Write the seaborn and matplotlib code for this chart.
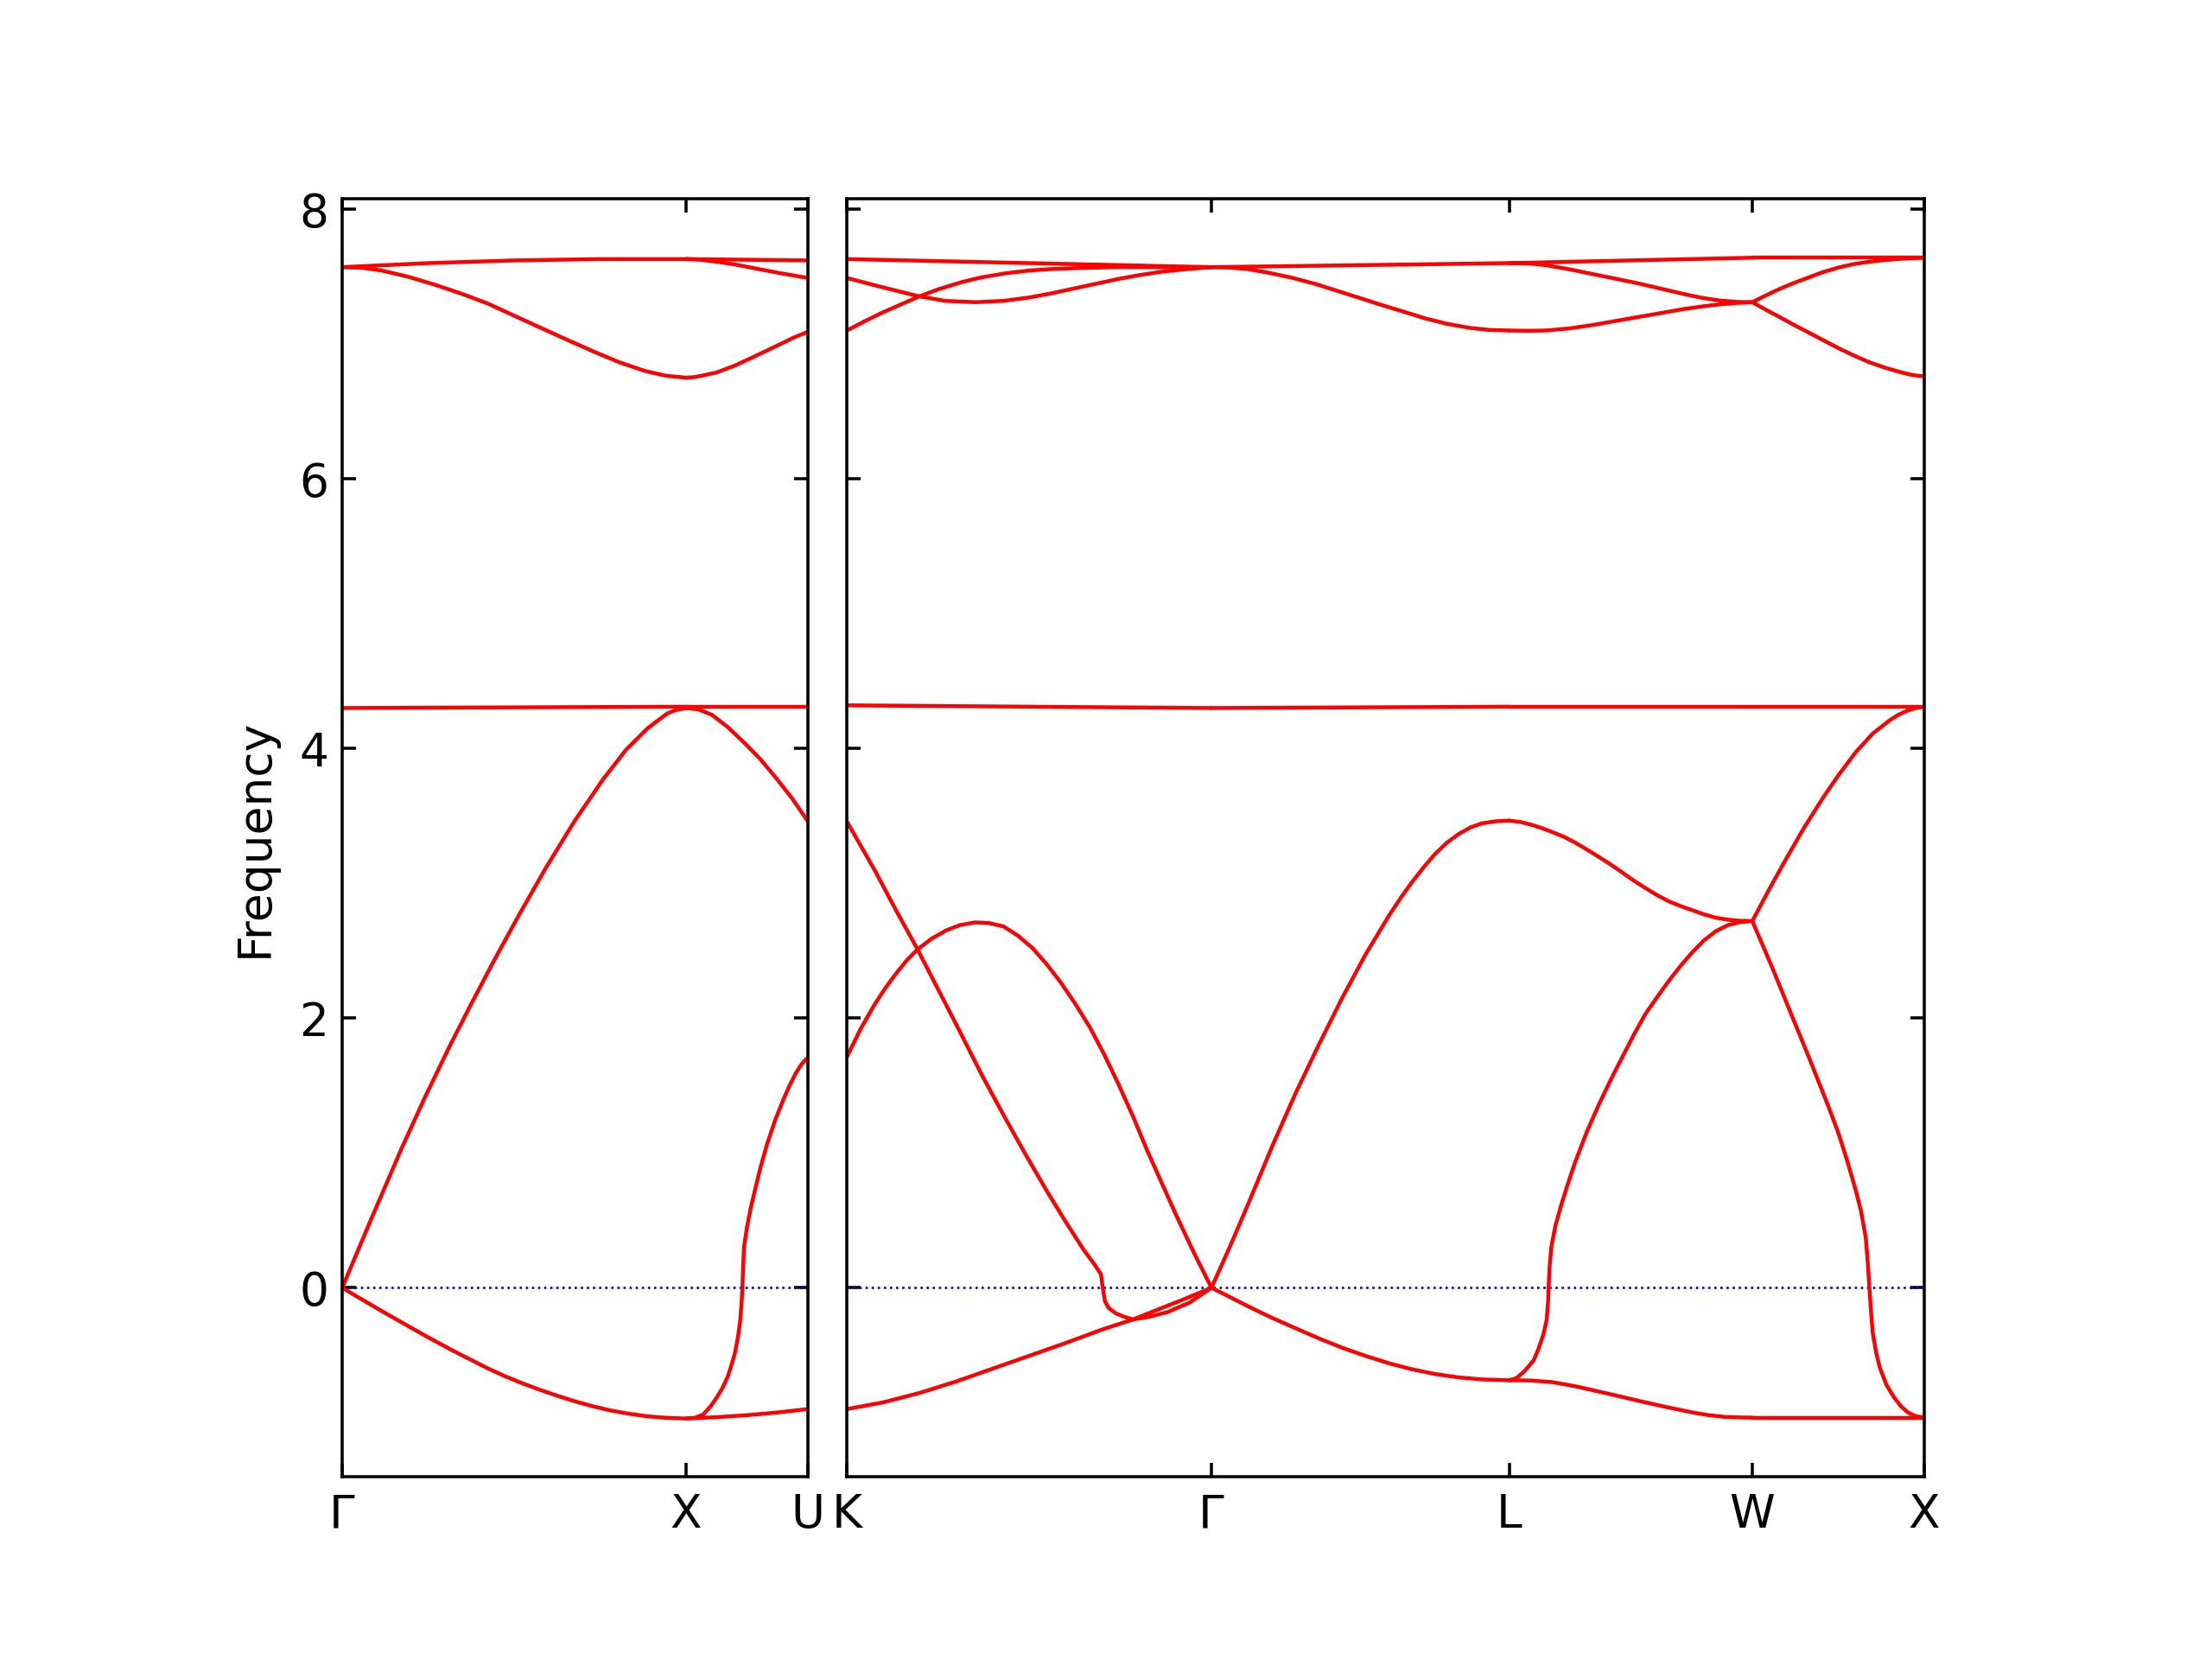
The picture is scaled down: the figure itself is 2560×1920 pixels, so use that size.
import matplotlib
matplotlib.use("Agg")
import matplotlib.pyplot as plt
import pandas as pd
import seaborn as sns

sns.set_style("ticks", {"axes.edgecolor": "black", "axes.linewidth": 0.8,
                        "xtick.color": "black", "ytick.color": "black",
                        "text.color": "black", "axes.labelcolor": "black"})
plt.rcParams["font.family"] = ["DejaVu Sans"]

# k-path: segment names, lengths (2pi/a) and which panel they go in
seg_names = ["GX", "XU", "KG", "GL", "LW", "WX"]
seg_lengths = [1.0, 0.3536, 1.0607, 0.8660, 0.7071, 0.5]
seg_panel = [0, 0, 1, 1, 1, 1]
panel_labels = [["Γ", "X", "U"], ["K", "Γ", "L", "W", "X"]]
freq_ticks = [0, 2, 4, 6, 8]

# bands: (fraction along segment, frequency)
# Gamma - X
gx_ta = [(0, 0), (0.056, -0.085), (0.113, -0.17), (0.175, -0.26), (0.238, -0.351), (0.319, -0.463),
         (0.42, -0.594), (0.472, -0.655), (0.525, -0.71), (0.578, -0.76), (0.63, -0.805),
         (0.68, -0.845), (0.73, -0.88), (0.78, -0.91), (0.83, -0.933), (0.883, -0.952),
         (0.936, -0.964), (1, -0.97)]
gx_la = [(0, 0), (0.086, 0.52), (0.172, 1.03), (0.24, 1.41), (0.312, 1.79), (0.376, 2.11),
         (0.442, 2.43), (0.515, 2.77), (0.591, 3.11), (0.675, 3.46), (0.758, 3.77),
         (0.825, 3.99), (0.888, 4.15), (0.945, 4.26), (0.97, 4.285), (1, 4.30)]
gx_flat = [(0, 4.30), (1, 4.31)]
gx_lo = [(0, 7.57), (0.06, 7.565), (0.115, 7.545), (0.19, 7.50), (0.269, 7.44), (0.345, 7.375),
         (0.423, 7.30), (0.5, 7.21), (0.577, 7.12), (0.655, 7.03), (0.73, 6.945), (0.805, 6.865),
         (0.88, 6.80), (0.94, 6.765), (1, 6.75)]
gx_to = [(0, 7.57), (0.25, 7.60), (0.5, 7.62), (0.75, 7.63), (1, 7.63)]

# X - U
xu_la = [(0, 4.30), (0.1, 4.29), (0.21, 4.25), (0.34, 4.16), (0.48, 4.04), (0.61, 3.92),
         (0.74, 3.78), (0.87, 3.63), (1, 3.46)]
xu_flat = [(0, 4.31), (1, 4.31)]
xu_ta1 = [(0, -0.97), (0.25, -0.96), (0.5, -0.945), (0.75, -0.925), (1, -0.90)]
xu_ta2 = [(0, -0.97), (0.07, -0.965), (0.139, -0.94), (0.2, -0.88), (0.254, -0.81), (0.3, -0.74),
          (0.341, -0.66), (0.37, -0.58), (0.399, -0.49), (0.425, -0.37), (0.442, -0.26),
          (0.455, -0.12), (0.462, 0.0), (0.468, 0.15), (0.475, 0.30), (0.50, 0.45), (0.53, 0.59),
          (0.567, 0.73), (0.61, 0.89), (0.663, 1.06), (0.73, 1.24), (0.796, 1.39), (0.85, 1.50),
          (0.9, 1.59), (0.95, 1.66), (1, 1.71)]
xu_lo = [(0, 6.75), (0.07, 6.755), (0.13, 6.765), (0.254, 6.79), (0.4, 6.84), (0.543, 6.90),
         (0.66, 6.95), (0.775, 7.00), (0.89, 7.05), (1, 7.09)]
xu_to1 = [(0, 7.63), (1, 7.62)]
xu_to2 = [(0, 7.63), (0.12, 7.625), (0.254, 7.61), (0.4, 7.59), (0.543, 7.565), (0.775, 7.525),
          (1, 7.49)]

# K - Gamma
kg_flat = [(0, 4.32), (0.5, 4.31), (1, 4.30)]
kg_top = [(0, 7.63), (0.5, 7.60), (1, 7.57)]
kg_mid = [(0, 7.49), (0.099, 7.42), (0.196, 7.355), (0.27, 7.32), (0.353, 7.31), (0.43, 7.32),
          (0.5, 7.345), (0.56, 7.375), (0.62, 7.41), (0.68, 7.445), (0.74, 7.48), (0.8, 7.51),
          (0.86, 7.535), (0.93, 7.555), (1, 7.57)]
kg_up = [(0, 7.10), (0.05, 7.17), (0.099, 7.235), (0.15, 7.295), (0.196, 7.35), (0.25, 7.405),
         (0.316, 7.46), (0.37, 7.495), (0.437, 7.525), (0.5, 7.545), (0.56, 7.556), (0.65, 7.565),
         (0.74, 7.57), (1, 7.57)]
kg_down = [(0, 3.46), (0.038, 3.28), (0.076, 3.10), (0.135, 2.80), (0.194, 2.51), (0.253, 2.20),
           (0.312, 1.89), (0.37, 1.58), (0.43, 1.28), (0.49, 0.99), (0.548, 0.72), (0.6, 0.49),
           (0.65, 0.28), (0.68, 0.17), (0.697, 0.10), (0.702, 0.0), (0.708, -0.10),
           (0.718, -0.15), (0.738, -0.19), (0.76, -0.215), (0.785, -0.235), (0.83, -0.215),
           (0.88, -0.18), (0.94, -0.11), (1, 0)]
kg_arch = [(0, 1.71), (0.038, 1.92), (0.076, 2.10), (0.105, 2.22), (0.135, 2.33), (0.165, 2.43),
           (0.194, 2.51), (0.233, 2.59), (0.272, 2.65), (0.31, 2.69), (0.352, 2.71),
           (0.39, 2.705), (0.43, 2.68), (0.47, 2.61), (0.509, 2.52), (0.548, 2.40),
           (0.588, 2.26), (0.628, 2.10), (0.667, 1.93), (0.706, 1.73), (0.745, 1.51),
           (0.785, 1.27), (0.825, 1.01), (0.864, 0.775), (0.903, 0.54), (0.95, 0.27), (1, 0)]
kg_ta = [(0, -0.90), (0.1, -0.85), (0.2, -0.78), (0.3, -0.695), (0.4, -0.60), (0.5, -0.505),
         (0.6, -0.41), (0.7, -0.31), (0.785, -0.235), (0.85, -0.165), (0.92, -0.09), (1, 0)]

# Gamma - L
gl_flat = [(0, 4.30), (1, 4.31)]
gl_top = [(0, 7.57), (0.5, 7.585), (1, 7.60)]
gl_lo = [(0, 7.57), (0.06, 7.567), (0.125, 7.555), (0.2, 7.525), (0.273, 7.49), (0.35, 7.445),
         (0.421, 7.395), (0.5, 7.34), (0.57, 7.29), (0.645, 7.24), (0.718, 7.19), (0.79, 7.15),
         (0.866, 7.12), (0.93, 7.105), (1, 7.10)]
gl_la = [(0, 0), (0.063, 0.31), (0.125, 0.63), (0.204, 1.05), (0.282, 1.44), (0.36, 1.80),
         (0.439, 2.15), (0.517, 2.47), (0.596, 2.76), (0.635, 2.89), (0.674, 3.01), (0.713, 3.12),
         (0.752, 3.22), (0.79, 3.30), (0.83, 3.365), (0.87, 3.415), (0.909, 3.445), (0.955, 3.46),
         (1, 3.465)]
gl_ta = [(0, 0), (0.063, -0.07), (0.125, -0.14), (0.2, -0.22), (0.282, -0.30), (0.36, -0.375),
         (0.439, -0.445), (0.517, -0.505), (0.596, -0.56), (0.674, -0.605), (0.752, -0.64),
         (0.83, -0.665), (0.909, -0.68), (1, -0.686)]

# L - W
lw_flat = [(0, 4.31), (1, 4.31)]
lw_top = [(0, 7.60), (0.5, 7.62), (1, 7.64)]
lw_mid = [(0, 7.60), (0.08, 7.598), (0.15, 7.585), (0.245, 7.555), (0.34, 7.52), (0.435, 7.485),
          (0.53, 7.45), (0.625, 7.41), (0.72, 7.37), (0.8, 7.34), (0.87, 7.322), (0.94, 7.312),
          (1, 7.31)]
lw_low = [(0, 7.10), (0.08, 7.098), (0.15, 7.10), (0.245, 7.115), (0.34, 7.14), (0.435, 7.17),
          (0.53, 7.20), (0.625, 7.23), (0.72, 7.26), (0.8, 7.28), (0.87, 7.295), (0.94, 7.305),
          (1, 7.31)]
lw_up = [(0, 3.465), (0.045, 3.455), (0.09, 3.435), (0.133, 3.41), (0.177, 3.38), (0.225, 3.345),
         (0.273, 3.30), (0.32, 3.25), (0.369, 3.195), (0.417, 3.14), (0.465, 3.08), (0.512, 3.02),
         (0.56, 2.965), (0.61, 2.91), (0.658, 2.865), (0.706, 2.83), (0.754, 2.80), (0.8, 2.77),
         (0.85, 2.745), (0.9, 2.73), (0.95, 2.722), (1, 2.72)]
lw_rise = [(0, -0.686), (0.03, -0.67), (0.062, -0.62), (0.1, -0.54), (0.119, -0.46), (0.14, -0.35),
           (0.154, -0.24), (0.16, -0.10), (0.162, 0.0), (0.166, 0.15), (0.173, 0.30),
           (0.19, 0.46), (0.215, 0.62), (0.243, 0.78), (0.273, 0.94), (0.32, 1.16),
           (0.369, 1.36), (0.417, 1.54), (0.465, 1.71), (0.512, 1.875), (0.56, 2.03),
           (0.61, 2.16), (0.658, 2.28), (0.706, 2.39), (0.754, 2.49), (0.8, 2.575),
           (0.85, 2.645), (0.9, 2.69), (0.95, 2.712), (1, 2.72)]
lw_ta = [(0, -0.686), (0.09, -0.688), (0.177, -0.70), (0.27, -0.73), (0.369, -0.77),
         (0.465, -0.81), (0.56, -0.85), (0.66, -0.89), (0.754, -0.925), (0.82, -0.945),
         (0.888, -0.958), (0.95, -0.962), (1, -0.963)]

# W - X
wx_flat = [(0, 4.31), (1, 4.31)]
wx_top = [(0, 7.64), (1, 7.64)]
wx_up7 = [(0, 7.31), (0.07, 7.355), (0.144, 7.40), (0.23, 7.447), (0.32, 7.49), (0.41, 7.533),
          (0.5, 7.567), (0.59, 7.593), (0.68, 7.61), (0.77, 7.623), (0.865, 7.632), (1, 7.64)]
wx_dn7 = [(0, 7.31), (0.07, 7.26), (0.144, 7.21), (0.23, 7.15), (0.32, 7.09), (0.41, 7.03),
          (0.5, 6.97), (0.59, 6.915), (0.68, 6.865), (0.77, 6.825), (0.865, 6.79), (0.93, 6.77),
          (1, 6.76)]
wx_up = [(0, 2.72), (0.1, 2.96), (0.196, 3.18), (0.3, 3.41), (0.414, 3.64), (0.5, 3.80),
         (0.6, 3.97), (0.7, 4.11), (0.8, 4.21), (0.85, 4.25), (0.9, 4.28), (0.95, 4.30), (1, 4.31)]
wx_dn = [(0, 2.72), (0.114, 2.38), (0.223, 2.04), (0.332, 1.70), (0.441, 1.35), (0.5, 1.15),
         (0.55, 0.95), (0.6, 0.73), (0.632, 0.57), (0.66, 0.37), (0.672, 0.18), (0.681, 0),
         (0.69, -0.17), (0.7, -0.33), (0.72, -0.48), (0.741, -0.59), (0.78, -0.72),
         (0.823, -0.81), (0.865, -0.88), (0.905, -0.925), (0.95, -0.952), (1, -0.963)]
wx_ta = [(0, -0.963), (1, -0.963)]

seg_bands = {
    "GX": [gx_ta, gx_la, gx_flat, gx_lo, gx_to],
    "XU": [xu_la, xu_flat, xu_ta1, xu_ta2, xu_lo, xu_to1, xu_to2],
    "KG": [kg_flat, kg_top, kg_mid, kg_up, kg_down, kg_arch, kg_ta],
    "GL": [gl_flat, gl_top, gl_lo, gl_la, gl_ta],
    "LW": [lw_flat, lw_top, lw_mid, lw_low, lw_up, lw_rise, lw_ta],
    "WX": [wx_flat, wx_top, wx_up7, wx_dn7, wx_up, wx_dn, wx_ta],
}

# long table, k measured from the start of each panel
rows = []
panel_ticks = [[0.0], [0.0]]
for name, length, panel in zip(seg_names, seg_lengths, seg_panel):
    start = panel_ticks[panel][-1]
    for i, band in enumerate(seg_bands[name]):
        for t, f in band:
            rows.append({"panel": panel, "line": f"{name}{i}", "k": start + t * length, "freq": f})
    panel_ticks[panel].append(start + length)
df = pd.DataFrame(rows)

fig = plt.figure(figsize=(8, 6), dpi=320)
axes = [fig.add_axes([0.1547, 0.11, 0.2105, 0.77]),
        fig.add_axes([0.3828, 0.11, 0.4871, 0.77])]

for p, ax in enumerate(axes):
    ax.axhline(0, color="blue", linestyle=":", linewidth=0.6, zorder=1)
    sns.lineplot(data=df[df["panel"] == p], x="k", y="freq", units="line", estimator=None,
                 sort=False, color="red", linewidth=1.0, ax=ax, legend=False, zorder=2)
    ax.set_xlim(0, panel_ticks[p][-1])
    ax.set_ylim(-1.40, 8.075)
    ax.set_xticks(panel_ticks[p])
    ax.set_xticklabels(panel_labels[p])
    ax.set_yticks(freq_ticks)
    ax.tick_params(direction="in", top=True, right=True, length=3.5, width=0.8,
                   labelsize=12, color="black")
    ax.tick_params(axis="x", pad=4.2)
    ax.set_xlabel("")
    ax.set_ylabel("")
    for s in ax.spines.values():
        s.set_visible(True)
        s.set_color("black")
        s.set_linewidth(0.8)

axes[0].set_ylabel("Frequency", fontsize=12, labelpad=5.8)
axes[1].tick_params(axis="y", labelleft=False)

fig.savefig("out.png", dpi=320)
